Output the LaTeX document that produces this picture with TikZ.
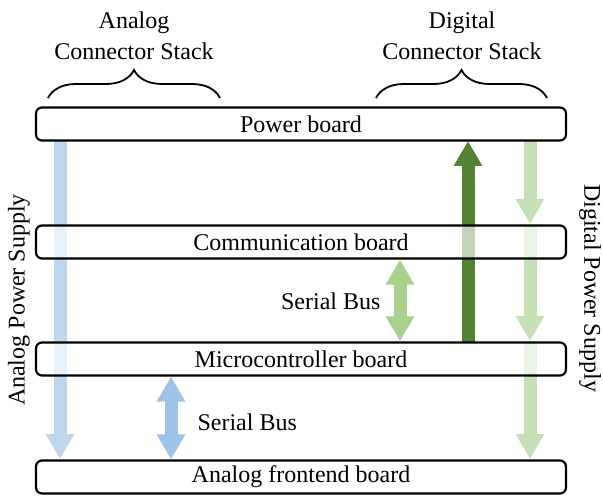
\documentclass[tikz,border=0pt]{standalone}
\usepackage{fontspec}
\setmainfont{Liberation Serif}
\usetikzlibrary{arrows.meta,decorations.pathreplacing}
\definecolor{apow}{HTML}{BDD7EE}
\definecolor{abus}{HTML}{9DC3E6}
\definecolor{dgreen}{HTML}{548235}
\definecolor{dpow}{HTML}{C5E0B4}
\definecolor{dbus}{HTML}{A9D18E}
\begin{document}
\begin{tikzpicture}[x=1pt,y=-1pt,
  board/.style={draw=black,line width=2.2pt,rounded corners=6pt,minimum width=530pt,minimum height=33pt,inner sep=0pt,font=\fontsize{24}{28}\selectfont},
  boardfill/.style={fill=white,fill opacity=0.65,rounded corners=6pt},
  bigarrow/.style={line width=13pt,-{Triangle[width=27pt,length=25pt]}},
  busarrow/.style={line width=13pt,{Triangle[width=27pt,length=25pt]}-{Triangle[width=27pt,length=25pt]}},
  lbl/.style={font=\fontsize{24}{31}\selectfont,align=center},
  brc/.style={decorate,decoration={brace,amplitude=28pt,aspect=0.5},line width=1.8pt}]
\useasboundingbox (0,0) rectangle (603,497);
% board anchors (positions)
\coordinate (pbC) at (301,124);
\coordinate (cbC) at (301,242);
\coordinate (mbC) at (301,359);
\coordinate (afC) at (301,477);
% arrows behind boards
\coordinate (ap1) at (60,141);
\coordinate (ap2) at (60,459);
\draw[bigarrow,apow] (ap1) -- (ap2);
\coordinate (dg1) at (468,342);
\coordinate (dg2) at (468,141);
\draw[bigarrow,dgreen] (dg1) -- (dg2);
\coordinate (dp0) at (530,141);
\coordinate (dp1) at (530,224);
\coordinate (dp1b) at (530,226);
\coordinate (dp2) at (530,341);
\coordinate (dp2b) at (530,343);
\coordinate (dp3) at (530,459);
\draw[bigarrow,dpow] (dp0) -- (dp1);
\draw[bigarrow,dpow] (dp1b) -- (dp2);
\draw[bigarrow,dpow] (dp2b) -- (dp3);
% boards
\foreach \c/\t/\n in {pbC/Power board/pb, cbC/Communication board/cb, mbC/Microcontroller board/mb, afC/Analog frontend board/af}{
  \fill[boardfill] ([shift={(-265,-16.5)}]\c) rectangle ([shift={(265,16.5)}]\c);
  \node[board] (\n) at (\c) {\t};
}
% serial buses
\draw[busarrow,dbus] (cb.south -| 400,0) -- (mb.north -| 400,0);
\node[lbl,anchor=east] (sb1) at (384,301) {Serial Bus};
\draw[busarrow,abus] (mb.south -| 171,0) -- (af.north -| 171,0);
\node[lbl,anchor=west] (sb2) at (194,422) {Serial Bus};
% braces
\coordinate (b1a) at (48,98);
\coordinate (b1b) at (220,98);
\draw[brc] (b1a) -- (b1b);
\node[lbl] (ac) at (134,36) {Analog\\Connector Stack};
\coordinate (b2a) at (376,98);
\coordinate (b2b) at (547,98);
\draw[brc] (b2a) -- (b2b);
\node[lbl] (dc) at (462,36) {Digital\\Connector Stack};
% side labels
\node[lbl,rotate=90] (aps) at (19,300) {Analog Power Supply};
\node[lbl,rotate=-90] (dps) at (590,288) {Digital Power Supply};
\end{tikzpicture}
\end{document}
